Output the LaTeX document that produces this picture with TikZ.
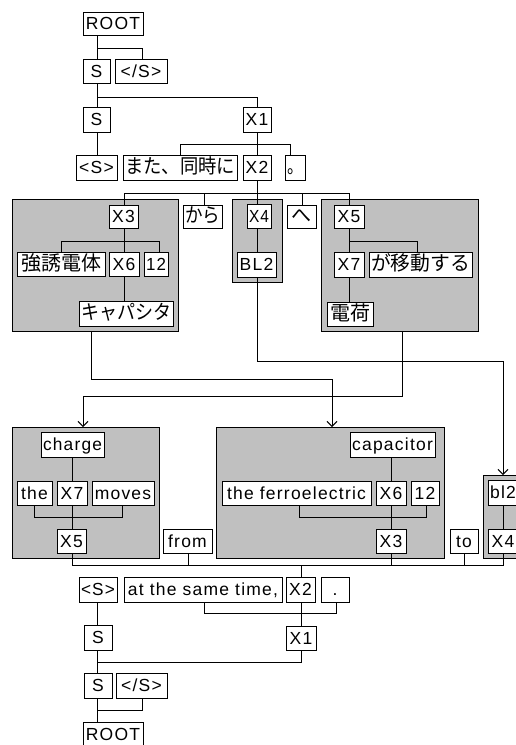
\documentclass[tikz,border=0pt]{standalone}
\usepackage{graphicx}
\usepackage{fontspec}
\setmainfont{Liberation Sans}[LetterSpace=7]
\newfontfamily\jpfont{Noto Sans CJK JP}
\usetikzlibrary{arrows.meta}
\definecolor{boxgray}{RGB}{192,192,192}
\pgfdeclarelayer{bg}\pgfdeclarelayer{lines}\pgfsetlayers{bg,lines,main}
\newsavebox\fitbox
\newcommand\fittext[2]{\sbox\fitbox{#2}\pgfmathsetmacro\fitratio{min(1,(#1)/\the\wd\fitbox)}\scalebox{\fitratio}[1]{\usebox\fitbox}}
\newcommand\jp[1]{{\jpfont\fontsize{20}{22}\selectfont #1}}
\newcommand\bx[6]{\node[wbox, minimum width={#4-#2}, minimum height={#5-#3}] (#1) at ({(#2+#4)/2},{(#3+#5)/2}) {\fittext{#4-#2-4}{#6}};}
\newcommand\gbx[5]{\node[gbox, minimum width={#4-#2}, minimum height={#5-#3}] (#1) at ({(#2+#4)/2},{(#3+#5)/2}) {};}
\tikzset{
  wbox/.style={draw, fill=white, line width=1pt, inner sep=0pt, outer sep=0pt, font=\fontsize{17.5}{19}\selectfont, text height=12.5pt, text depth=0pt},
  gbox/.style={draw, fill=boxgray, line width=1pt, inner sep=0pt, outer sep=0pt},
  conn/.style={line width=1pt},
  arr/.style={conn, -{Straight Barb[length=5pt,width=10pt]}}
}
\begin{document}
\begin{tikzpicture}[x=1pt,y=-1pt]
\useasboundingbox (0,0) rectangle (515,745);
\begin{pgfonlayer}{bg}
\fill[white] (0,0) rectangle (515,745);
\gbx{gJ1}{12}{199}{178}{331}
\gbx{gJ2}{232}{199}{282}{282}
\gbx{gJ3}{321}{199}{478}{331}
\gbx{gE1}{12}{427}{159}{558}
\gbx{gE2}{216}{427}{444}{558}
\gbx{gE3}{483}{475}{530}{558}
\end{pgfonlayer}
% top tree (Japanese)
\bx{rootT}{83}{12}{143}{35}{ROOT}
\bx{sA}{83}{59}{110}{83}{S}
\bx{esA}{115}{59}{167}{83}{</S>}
\bx{sB}{83}{107}{110}{132}{S}
\bx{x1T}{243}{107}{271}{132}{X1}
\bx{ltS}{76}{155}{117}{180}{<S>}
\bx{mata}{123}{155}{237}{180}{\jp{また、同時に}}
\bx{x2T}{243}{155}{271}{180}{X2}
\bx{maru}{285}{155}{305}{180}{\jp{。}}
\bx{x3J}{109}{205}{138}{228}{X3}
\bx{kara}{183}{205}{222}{228}{\jp{から}}
\bx{x4J}{247}{204}{271}{228}{X4}
\bx{he}{287}{205}{316}{228}{\jp{へ}}
\bx{x5J}{334}{205}{364}{228}{X5}
\bx{kyo}{17}{252}{105}{276}{\jp{強誘電体}}
\bx{x6J}{109}{252}{139}{276}{X6}
\bx{n12J}{144}{252}{168}{276}{12}
\bx{bl2J}{237}{252}{276}{277}{BL2}
\bx{x7J}{334}{252}{364}{277}{X7}
\bx{gaido}{369}{252}{472}{277}{\jp{が移動する}}
\bx{kyapa}{79}{301}{173}{326}{\jp{キャパシタ}}
\bx{denka}{327}{302}{373}{326}{\jp{電荷}}
% bottom tree (English)
\bx{charge}{41}{432}{104}{457}{charge}
\bx{cap}{350}{432}{435}{457}{capacitor}
\bx{nthe}{17}{481}{52}{505}{the}
\bx{x7E}{57}{481}{87}{505}{X7}
\bx{moves}{92}{481}{154}{505}{moves}
\bx{ferro}{222}{481}{371}{505}{the ferroelectric}
\bx{x6E}{376}{481}{406}{505}{X6}
\bx{n12E}{411}{481}{439}{505}{12}
\bx{bl2E}{488}{480}{518}{505}{bl2}
\bx{x5E}{57}{529}{86}{553}{X5}
\bx{nfrom}{163}{529}{212}{553}{from}
\bx{x3E}{376}{529}{406}{553}{X3}
\bx{nto}{450}{529}{478}{553}{to}
\bx{x4E}{488}{529}{518}{553}{X4}
\bx{ltSE}{79}{577}{117}{602}{<S>}
\bx{atsame}{124}{577}{282}{602}{at the same time,}
\bx{x2E}{286}{577}{315}{602}{X2}
\bx{ndot}{321}{577}{349}{602}{.}
\bx{x1E}{286}{626}{316}{650}{X1}
\bx{sC}{84}{625}{112}{650}{S}
\bx{sD}{84}{673}{112}{698}{S}
\bx{esB}{116}{673}{167}{698}{</S>}
\bx{rootB}{83}{722}{143}{747}{ROOT}
\begin{pgfonlayer}{lines}
% top
\draw[conn] (rootT.south -| 97,0) -- (sA.north -| 97,0);
\draw[conn] (rootT.south -| 97,0) |- (142,48) -- (esA.north -| 142,0);
\draw[conn] (sA.south -| 97,0) -- (sB.north -| 97,0);
\draw[conn] (sA.south -| 97,0) |- (257,97) -- (x1T.north -| 257,0);
\draw[conn] (sB.south -| 97,0) -- (ltS.north -| 97,0);
\draw[conn] (x1T.south -| 257,0) -- (x2T.north -| 257,0);
\draw[conn] (mata.north -| 180,0) |- (290,144) -- (maru.north -| 290,0);
\draw[conn] (x2T.south -| 257,0) -- (x4J.north -| 257,0);
\draw[conn] (x3J.north -| 124,0) |- (349,193) -- (x5J.north -| 349,0);
\draw[conn] (kara.north -| 204,0) -- (204,193);
\draw[conn] (he.north -| 302,0) -- (302,193);
\draw[conn] (x3J.south -| 124,0) -- (kyapa.north -| 124,0);
\draw[conn] (kyo.north -| 61,0) |- (159,241) -- (n12J.north -| 159,0);
\draw[conn] (x4J.south -| 257,0) -- (bl2J.north -| 257,0);
\draw[conn] (x5J.south -| 349,0) -- (denka.north -| 349,0);
\draw[conn] (x5J.south -| 349,0) |- (417,241) -- (gaido.north -| 417,0);
% cross links
\draw[arr] (gJ1.south -| 91,0) |- (332,379) -- (gE2.north -| 332,0);
\draw[arr] (bl2J.south -| 257,0) |- (503,361) -- (gE3.north -| 503,0);
\draw[arr] (gJ3.south -| 402,0) |- (83,396) -- (gE1.north -| 83,0);
% English
\draw[conn] (charge.south -| 72,0) -- (x5E.north -| 72,0);
\draw[conn] (nthe.south -| 34,0) |- (122,517) -- (moves.south -| 122,0);
\draw[conn] (cap.south -| 391,0) -- (x3E.north -| 391,0);
\draw[conn] (ferro.south -| 299,0) |- (426,517) -- (n12E.south -| 426,0);
\draw[conn] (bl2E.south -| 503,0) -- (x4E.north -| 503,0);
\draw[conn] (x5E.south -| 72,0) |- (503,565) -- (x4E.south -| 503,0);
\draw[conn] (nfrom.south -| 188,0) -- (188,565);
\draw[conn] (x3E.south -| 391,0) -- (391,565);
\draw[conn] (nto.south -| 464,0) -- (464,565);
\draw[conn] (301,565) -- (x2E.north -| 301,0);
\draw[conn] (x2E.south -| 301,0) -- (x1E.north -| 301,0);
\draw[conn] (atsame.south -| 204,0) |- (336,613) -- (ndot.south -| 336,0);
\draw[conn] (ltSE.south -| 97,0) -- (sC.north -| 97,0);
\draw[conn] (sC.south -| 97,0) -- (sD.north -| 97,0);
\draw[conn] (x1E.south -| 301,0) |- (97,662);
\draw[conn] (esB.south -| 142,0) |- (97,710);
\draw[conn] (sD.south -| 97,0) -- (rootB.north -| 97,0);
\end{pgfonlayer}
\end{tikzpicture}
\end{document}
